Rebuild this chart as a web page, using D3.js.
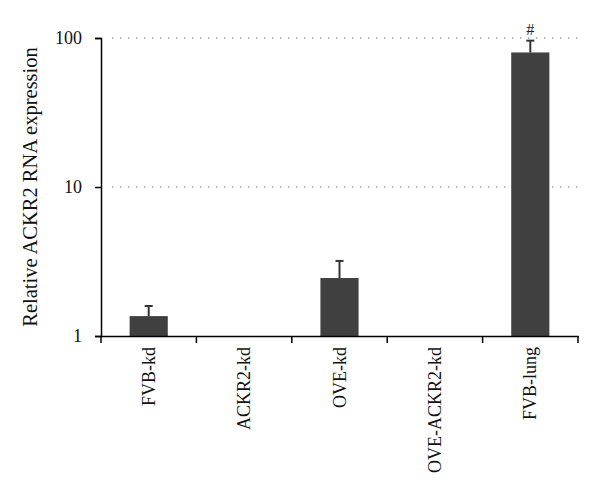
<!DOCTYPE html>
<html><head><meta charset="utf-8">
<script src="https://cdn.jsdelivr.net/npm/d3@7"></script>
<style>body{margin:0;background:#fff}svg{display:block}</style>
</head><body>
<script>
const categories = ["FVB-kd","ACKR2-kd","OVE-kd","OVE-ACKR2-kd","FVB-lung"];
const values = [1.36, null, 2.45, null, 80];
const errorTops = [1.59, null, 3.19, null, 96];
const marks = ["", "", "", "", "#"];
const yTicks = [1, 10, 100];
const yLabel = "Relative ACKR2 RNA expression";

const W = 600, H = 498;
const m = {left: 101, right: 22, top: 38, bottom: 162};
const svg = d3.select("body").append("svg").attr("width", W).attr("height", H);
const font = "'Liberation Serif', 'Times New Roman', serif";

const x = d3.scaleBand().domain(categories).range([m.left, W - m.right]).paddingInner(0.6).paddingOuter(0.3);
const xb = d3.scaleBand().domain(categories).range([m.left, W - m.right]);
const y = d3.scaleLog().domain([1, 100]).range([H - m.bottom, m.top]);

// gridlines
svg.append("g").selectAll("line").data(yTicks.filter(t => t > 1)).join("line")
  .attr("x1", m.left + 11).attr("x2", W - m.right)
  .attr("y1", d => y(d)).attr("y2", d => y(d))
  .attr("stroke", "#777").attr("stroke-width", 1.2).attr("stroke-dasharray", "1.5,6.5");

const data = categories.map((c, i) => ({c, v: values[i], e: errorTops[i], mk: marks[i]})).filter(d => d.v != null);

svg.append("g").selectAll("rect").data(data).join("rect")
  .attr("x", d => x(d.c)).attr("width", x.bandwidth())
  .attr("y", d => y(d.v)).attr("height", d => y(1) - y(d.v))
  .attr("fill", "#404040");

const eb = svg.append("g").attr("stroke", "#333").attr("stroke-width", 2);
data.forEach(d => {
  const cx = x(d.c) + x.bandwidth() / 2;
  eb.append("line").attr("x1", cx).attr("x2", cx).attr("y1", y(d.v)).attr("y2", y(d.e));
  eb.append("line").attr("x1", cx - 4).attr("x2", cx + 4).attr("y1", y(d.e)).attr("y2", y(d.e));
});

svg.append("g").selectAll("text").data(data.filter(d => d.mk)).join("text")
  .attr("x", d => x(d.c) + x.bandwidth() / 2).attr("y", d => y(d.e) - 6)
  .attr("text-anchor", "middle").attr("font-family", font).attr("font-size", 16)
  .attr("fill", "#222").text(d => d.mk);

// y axis
const yAxis = svg.append("g").attr("transform", `translate(${m.left},0)`)
  .call(d3.axisLeft(y).tickValues(yTicks).tickFormat(d3.format("d")).tickSizeOuter(0).tickSize(6).tickPadding(13));
yAxis.select(".domain").attr("stroke", "#000").attr("stroke-width", 1.5);
yAxis.selectAll(".tick line").attr("stroke", "#000").attr("stroke-width", 1.5);
yAxis.selectAll("text").attr("font-family", font).attr("font-size", 18).attr("fill", "#111");

// x axis
const xAxis = svg.append("g").attr("transform", `translate(0,${H - m.bottom})`)
  .call(d3.axisBottom(xb).tickSize(0).tickSizeOuter(0).tickFormat(""));
xAxis.select(".domain").attr("stroke", "#000").attr("stroke-width", 1.5);
xAxis.selectAll(".tick").remove();
const bounds = [m.left].concat(categories.map(c => xb(c) + xb.bandwidth()));
xAxis.selectAll("line.sep").data(bounds).join("line").attr("class", "sep")
  .attr("x1", d => d).attr("x2", d => d).attr("y1", 0).attr("y2", 7)
  .attr("stroke", "#000").attr("stroke-width", 1.5);
xAxis.selectAll("text.lab").data(categories).join("text").attr("class", "lab")
  .attr("transform", d => `translate(${xb(d) + xb.bandwidth() / 2 + 6},11) rotate(-90)`)
  .attr("text-anchor", "end").attr("font-family", font).attr("font-size", 18).attr("fill", "#111")
  .text(d => d);

svg.append("text")
  .attr("transform", `translate(37,${(y(1) + y(100)) / 2}) rotate(-90)`)
  .attr("text-anchor", "middle").attr("font-family", font).attr("font-size", 20.5).attr("fill", "#111")
  .text(yLabel);
</script>
</body></html>
